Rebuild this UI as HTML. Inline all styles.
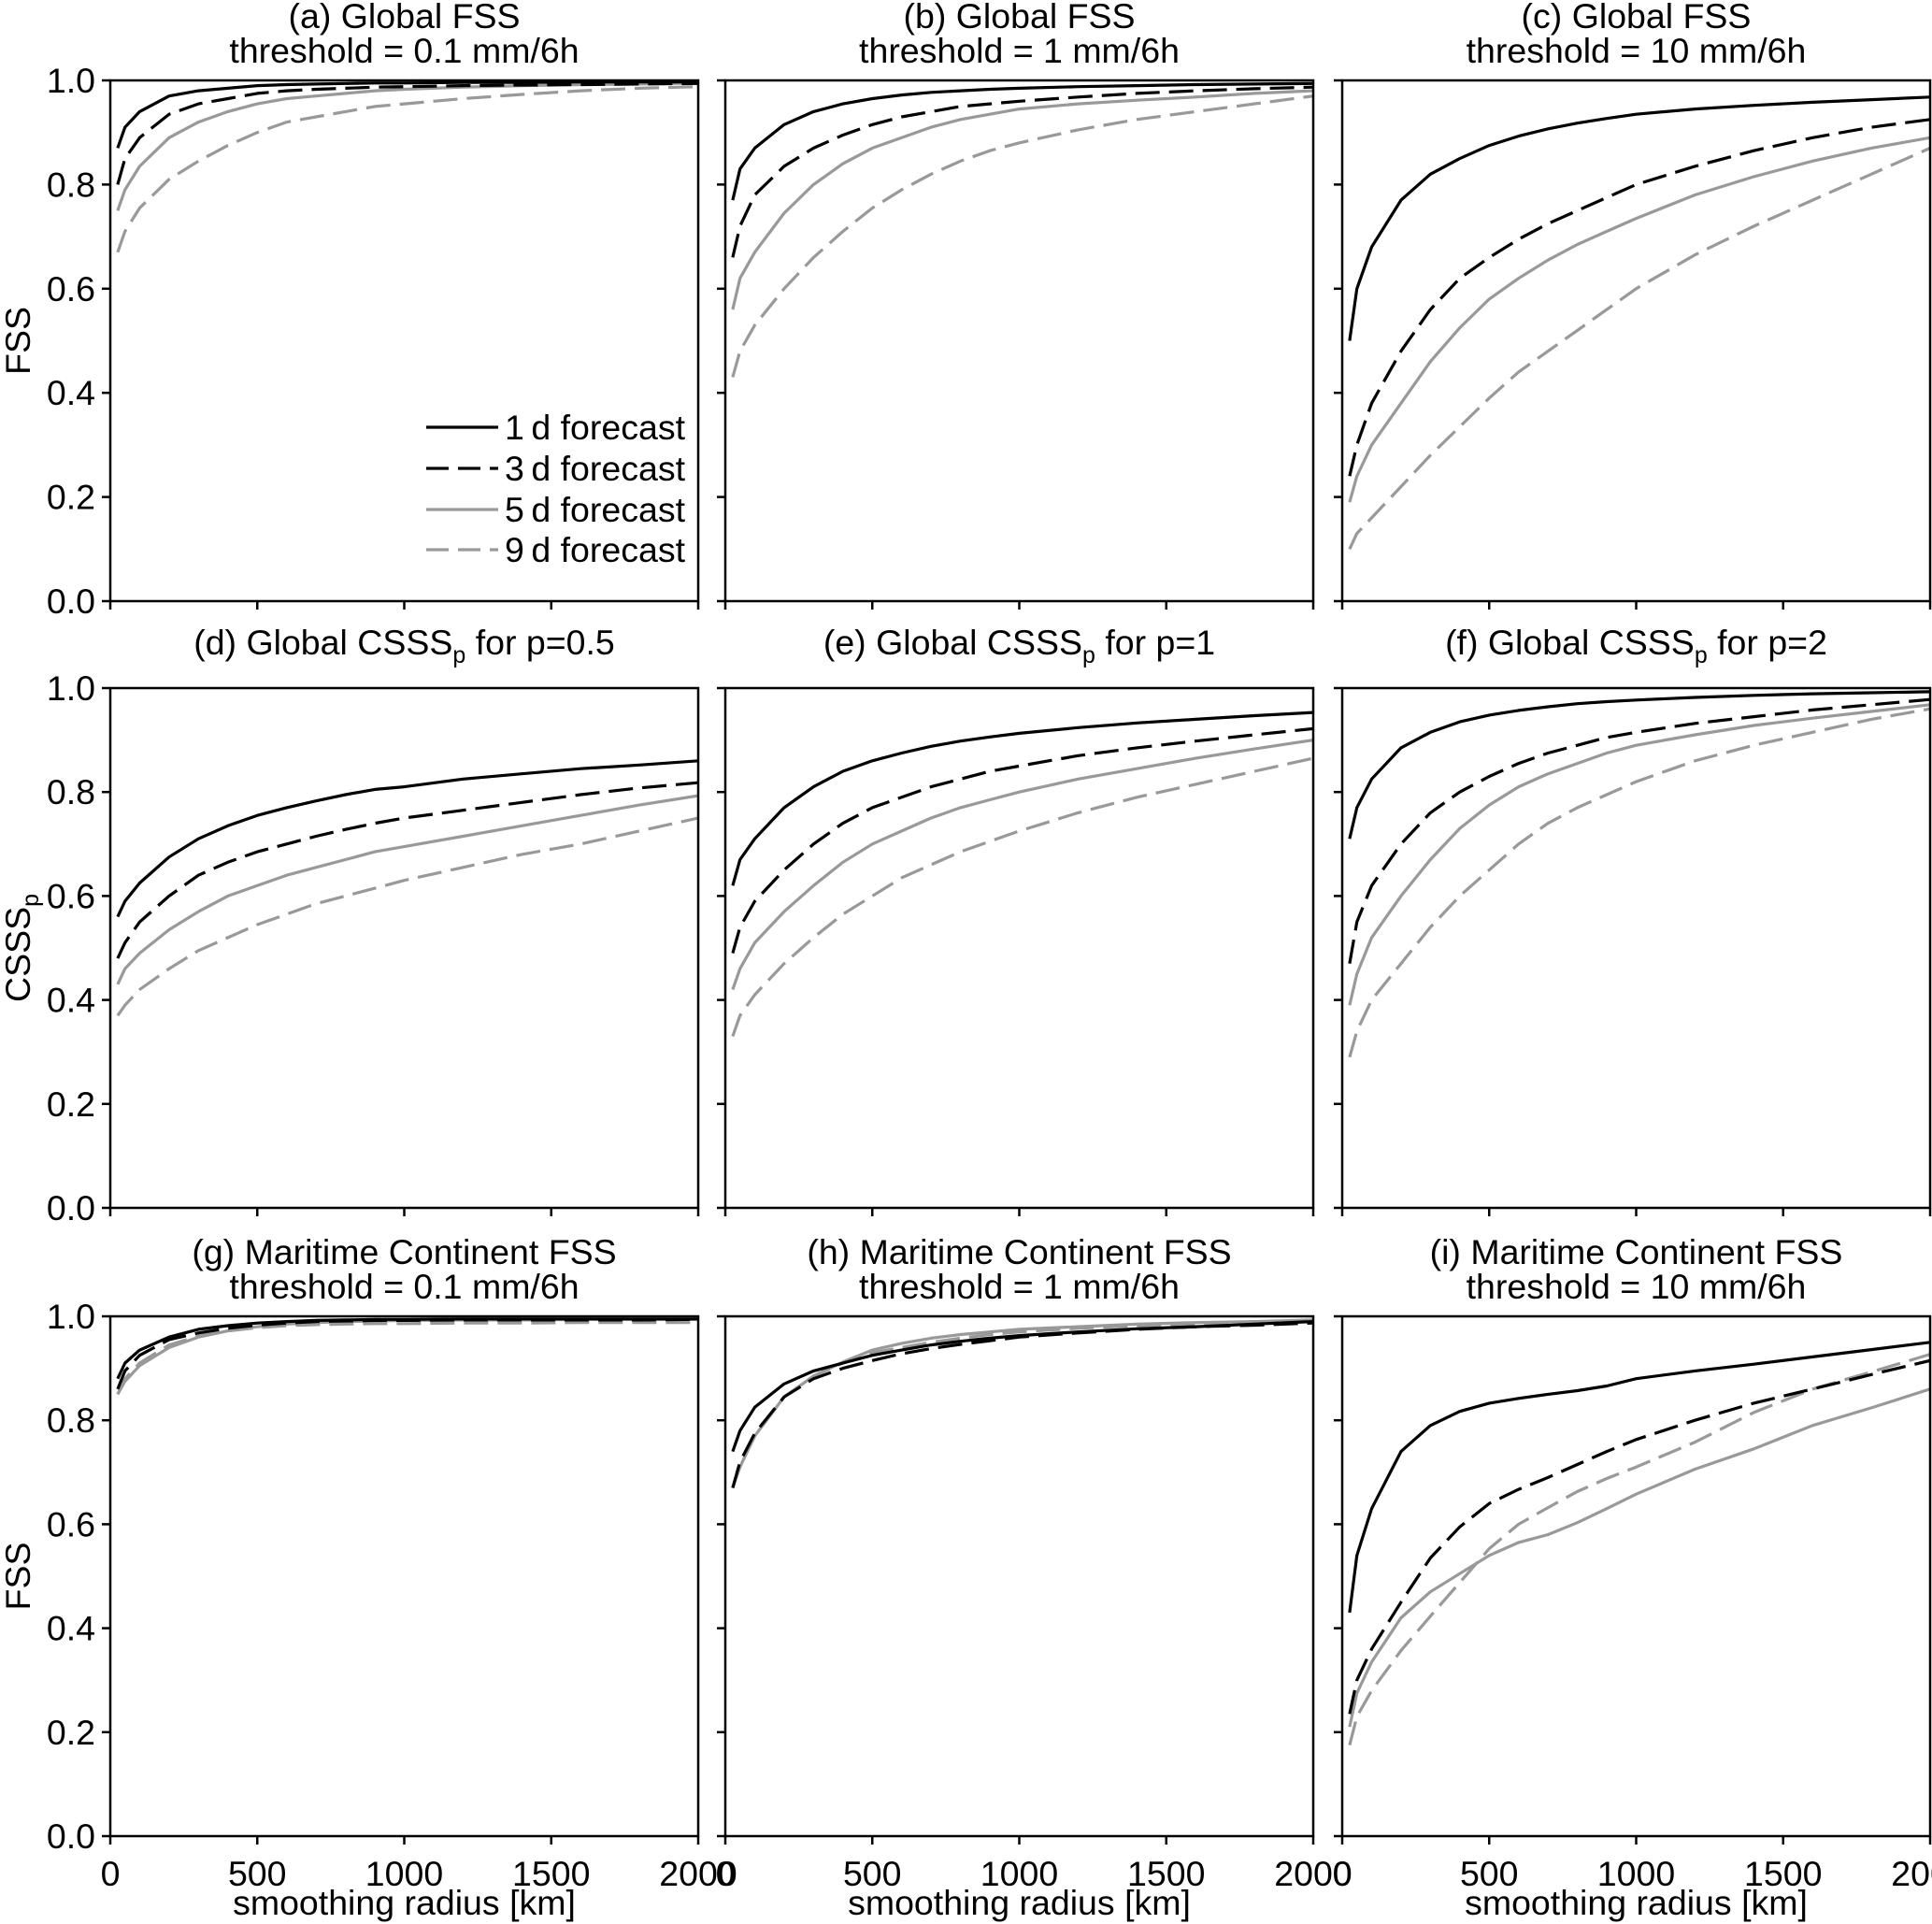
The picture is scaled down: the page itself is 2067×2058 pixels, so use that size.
<!DOCTYPE html>
<html><head><meta charset="utf-8"><style>
html,body{margin:0;padding:0;background:#fff;}
svg{display:block;font-family:"Liberation Sans",Arial,sans-serif;}
</style></head><body>
<svg id="fig" width="2067" height="2058" viewBox="0 0 2067 2058" xmlns="http://www.w3.org/2000/svg"></svg>
<script>
const radii = [25,50,100,200,300,400,500,600,700,800,900,1000,1200,1400,1600,1800,2000];
const xTicks = [0,500,1000,1500,2000];
const yTicks = [0,0.2,0.4,0.6,0.8,1.0];
const seriesLabels = ["1\u2009d forecast","3\u2009d forecast","5\u2009d forecast","9\u2009d forecast"];

const a1=[0.87,0.91,0.94,0.97,0.98,0.985,0.99,0.992,0.993,0.994,0.995,0.995,0.996,0.996,0.997,0.997,0.997];
const a3=[0.80,0.85,0.89,0.935,0.955,0.965,0.975,0.98,0.983,0.985,0.987,0.988,0.99,0.991,0.992,0.993,0.994];
const a5=[0.75,0.79,0.835,0.89,0.92,0.94,0.955,0.965,0.97,0.975,0.98,0.983,0.987,0.99,0.992,0.993,0.995];
const a9=[0.67,0.71,0.755,0.81,0.845,0.875,0.90,0.92,0.93,0.94,0.95,0.955,0.965,0.973,0.98,0.985,0.988];

const b1=[0.77,0.83,0.87,0.915,0.94,0.955,0.965,0.972,0.977,0.98,0.983,0.985,0.988,0.99,0.992,0.993,0.994];
const b3=[0.66,0.72,0.78,0.835,0.87,0.895,0.915,0.93,0.94,0.95,0.955,0.96,0.968,0.975,0.98,0.984,0.987];
const b5=[0.56,0.62,0.67,0.745,0.80,0.84,0.87,0.89,0.91,0.925,0.935,0.945,0.955,0.962,0.968,0.975,0.98];
const b9=[0.43,0.48,0.53,0.60,0.66,0.71,0.755,0.79,0.82,0.845,0.865,0.88,0.905,0.925,0.94,0.955,0.97];

const c1=[0.50,0.60,0.68,0.77,0.82,0.85,0.875,0.893,0.907,0.918,0.927,0.935,0.945,0.952,0.958,0.963,0.968];
const c3=[0.24,0.30,0.38,0.48,0.56,0.62,0.66,0.695,0.725,0.75,0.775,0.80,0.835,0.865,0.89,0.91,0.925];
const c5=[0.19,0.24,0.30,0.38,0.46,0.525,0.58,0.62,0.655,0.685,0.71,0.735,0.78,0.815,0.845,0.87,0.89];
const c9=[0.10,0.13,0.16,0.22,0.28,0.335,0.39,0.44,0.48,0.52,0.56,0.60,0.665,0.72,0.77,0.82,0.87];

const d1=[0.56,0.59,0.625,0.675,0.71,0.735,0.755,0.77,0.783,0.795,0.805,0.81,0.825,0.835,0.845,0.852,0.86];
const d3=[0.48,0.51,0.55,0.60,0.64,0.665,0.685,0.70,0.715,0.728,0.74,0.75,0.765,0.78,0.795,0.808,0.818];
const d5=[0.43,0.46,0.49,0.535,0.57,0.60,0.62,0.64,0.655,0.67,0.685,0.695,0.715,0.735,0.755,0.775,0.793];
const d9=[0.37,0.39,0.42,0.46,0.495,0.52,0.545,0.565,0.585,0.60,0.615,0.63,0.655,0.68,0.70,0.725,0.75];

const e1=[0.62,0.67,0.71,0.77,0.81,0.84,0.86,0.875,0.888,0.898,0.906,0.913,0.924,0.933,0.94,0.947,0.953];
const e3=[0.49,0.54,0.59,0.65,0.70,0.74,0.77,0.79,0.81,0.825,0.84,0.85,0.87,0.885,0.898,0.91,0.922];
const e5=[0.42,0.46,0.51,0.57,0.62,0.665,0.70,0.725,0.75,0.77,0.785,0.80,0.825,0.845,0.865,0.883,0.90];
const e9=[0.33,0.37,0.41,0.47,0.52,0.565,0.60,0.635,0.66,0.685,0.705,0.725,0.76,0.79,0.815,0.84,0.865];

const f1=[0.71,0.77,0.825,0.885,0.915,0.935,0.948,0.957,0.964,0.97,0.974,0.977,0.982,0.986,0.989,0.991,0.993];
const f3=[0.47,0.55,0.62,0.70,0.76,0.80,0.83,0.855,0.875,0.89,0.905,0.915,0.932,0.945,0.958,0.968,0.978];
const f5=[0.39,0.45,0.52,0.60,0.67,0.73,0.775,0.81,0.835,0.855,0.875,0.89,0.91,0.928,0.942,0.955,0.968];
const f9=[0.29,0.34,0.40,0.47,0.54,0.60,0.65,0.70,0.74,0.77,0.795,0.82,0.86,0.89,0.915,0.94,0.96];

const g1=[0.88,0.91,0.935,0.96,0.975,0.982,0.987,0.99,0.992,0.993,0.994,0.994,0.995,0.995,0.995,0.995,0.995];
const g3=[0.86,0.895,0.925,0.955,0.968,0.977,0.983,0.987,0.99,0.991,0.992,0.992,0.993,0.993,0.993,0.993,0.994];
const g5=[0.85,0.875,0.905,0.94,0.96,0.972,0.98,0.985,0.988,0.99,0.991,0.992,0.993,0.993,0.994,0.994,0.994];
const g9=[0.85,0.88,0.91,0.945,0.962,0.972,0.978,0.982,0.984,0.985,0.986,0.986,0.987,0.987,0.988,0.988,0.988];

const h1=[0.74,0.78,0.825,0.87,0.895,0.91,0.925,0.935,0.945,0.952,0.958,0.963,0.97,0.976,0.98,0.985,0.99];
const h3=[0.67,0.72,0.775,0.845,0.88,0.90,0.915,0.928,0.938,0.946,0.953,0.96,0.968,0.975,0.98,0.983,0.987];
const h5=[0.67,0.71,0.77,0.845,0.885,0.912,0.935,0.948,0.958,0.965,0.97,0.975,0.98,0.985,0.988,0.99,0.993];
const h9=[0.67,0.715,0.77,0.845,0.885,0.91,0.93,0.94,0.95,0.958,0.965,0.97,0.977,0.982,0.985,0.988,0.99];

const i1=[0.43,0.54,0.63,0.74,0.79,0.817,0.833,0.842,0.85,0.857,0.866,0.88,0.895,0.908,0.922,0.936,0.95];
const i3=[0.235,0.30,0.36,0.45,0.535,0.595,0.64,0.667,0.69,0.715,0.74,0.763,0.80,0.833,0.86,0.888,0.915];
const i5=[0.21,0.275,0.335,0.42,0.47,0.505,0.54,0.565,0.58,0.603,0.63,0.658,0.706,0.745,0.79,0.824,0.86];
const i9=[0.175,0.23,0.28,0.357,0.423,0.488,0.553,0.60,0.632,0.663,0.688,0.71,0.758,0.815,0.86,0.893,0.927];

const panelSeries = [[a1,a3,a5,a9],[b1,b3,b5,b9],[c1,c3,c5,c9],[d1,d3,d5,d9],[e1,e3,e5,e9],[f1,f3,f5,f9],[g1,g3,g5,g9],[h1,h3,h5,h9],[i1,i3,i5,i9]];
const titles1 = ["(a) Global FSS","(b) Global FSS","(c) Global FSS",null,null,null,"(g) Maritime Continent FSS","(h) Maritime Continent FSS","(i) Maritime Continent FSS"];
const titles2 = ["threshold = 0.1 mm/6h","threshold = 1 mm/6h","threshold = 10 mm/6h",null,null,null,"threshold = 0.1 mm/6h","threshold = 1 mm/6h","threshold = 10 mm/6h"];
const cssspP = ["0.5","1","2"];

const NS="http://www.w3.org/2000/svg";
const svg=document.getElementById('fig');
function mk(tag,attrs,parent){const e=document.createElementNS(NS,tag);for(const k in attrs)e.setAttribute(k,attrs[k]);(parent||svg).appendChild(e);return e;}

const colL=[118,776,1436], colR=[747,1405,2065];
const rowT=[86,736,1408], rowB=[643,1292,1964];
const styles=[{c:"#000",d:null},{c:"#000",d:"26 10"},{c:"#999",d:null},{c:"#999",d:"26 10"}];
const FS=37.5;

for(let p=0;p<9;p++){
  const col=p%3,row=Math.floor(p/3);
  const L=colL[col],R=colR[col],T=rowT[row],B=rowB[row];
  const xs=v=>L+(v-0)/(2000-0)*(R-L);
  const ys=v=>B-(v-0)/(1-0)*(B-T);
  const g=mk('g',{});
  
  
  const cx=(L+R)/2;
  if(row!==1){
    const t1=mk('text',{x:cx,y:T-56,'text-anchor':'middle','font-size':FS},g);
    t1.textContent=titles1[p];
    
    
    const t2=mk('text',{x:cx,y:T-19,'text-anchor':'middle','font-size':FS},g);
    t2.textContent=titles2[p];
    
    
  } else {
    const t=mk('text',{x:cx,y:T-36,'text-anchor':'middle','font-size':FS},g);
    
    
    const lab="("+"def"[col]+") Global CSSS";
    const s1=mk('tspan',{},t);s1.textContent=lab;
    const s2=mk('tspan',{'font-size':25,dy:9},t);s2.textContent="p";
    const s3=mk('tspan',{dy:-9},t);s3.textContent=" for p="+cssspP[col];
  }
  const clip=mk('clipPath',{id:'clip'+p},g);
  mk('rect',{x:L,y:T-3,width:R-L,height:B-T+3},clip);
  for(let s=3;s>=0;s--){
    const vals=panelSeries[p][s];
    const pts=radii.map((r,i)=>xs(r).toFixed(1)+","+ys(vals[i]).toFixed(1)).join(" ");
    const pl=mk('polyline',{points:pts,fill:'none',stroke:styles[s].c,'stroke-width':3.2,'stroke-linejoin':'round','clip-path':'url(#clip'+p+')'},g);
    if(styles[s].d)pl.setAttribute('stroke-dasharray',styles[s].d);
    
    
  }
  const fr=mk('rect',{x:L,y:T,width:R-L,height:B-T,fill:'none',stroke:'#000','stroke-width':2.5},g);
  
  
  yTicks.forEach(v=>{
    const y=ys(v);
    mk('line',{x1:L-9,x2:L,y1:y,y2:y,stroke:'#000','stroke-width':2.5},g);
    if(col===0){
      const t=mk('text',{x:L-16,y:y+13,'text-anchor':'end','font-size':FS},g);
      t.textContent=v.toFixed(1);
      
      
    }
  });
  xTicks.forEach(v=>{
    const x=xs(v);
    mk('line',{x1:x,x2:x,y1:B,y2:B+9,stroke:'#000','stroke-width':2.5},g);
    if(row===2){
      const t=mk('text',{x:x,y:B+53,'text-anchor':'middle','font-size':FS},g);
      t.textContent=String(v);
      
      
    }
  });
  if(row===2){
    const t=mk('text',{x:cx,y:B+84,'text-anchor':'middle','font-size':FS},g);
    t.textContent="smoothing radius [km]";
    
    
  }
  if(col===0){
    const yc=(T+B)/2;
    const t=mk('text',{x:0,y:0,'text-anchor':'middle','font-size':FS,transform:`translate(32,${yc}) rotate(-90)`},g);
    
    
    if(row===1){
      const s1=mk('tspan',{},t);s1.textContent="CSSS";
      const s2=mk('tspan',{'font-size':25,dy:9},t);s2.textContent="p";
    } else t.textContent="FSS";
  }
  if(p===0){
    const lg=mk('g',{},g);
    
    
    const ly=[457,501,545,588];
    for(let s=0;s<4;s++){
      const ln=mk('line',{x1:456,x2:533,y1:ly[s],y2:ly[s],stroke:styles[s].c,'stroke-width':3.2},lg);
      if(styles[s].d)ln.setAttribute('stroke-dasharray',"24 10");
      
      
      const t=mk('text',{x:540,y:ly[s]+13,'font-size':FS},lg);
      t.textContent=seriesLabels[s];
      
      
    }
  }
}
</script>
</body></html>
